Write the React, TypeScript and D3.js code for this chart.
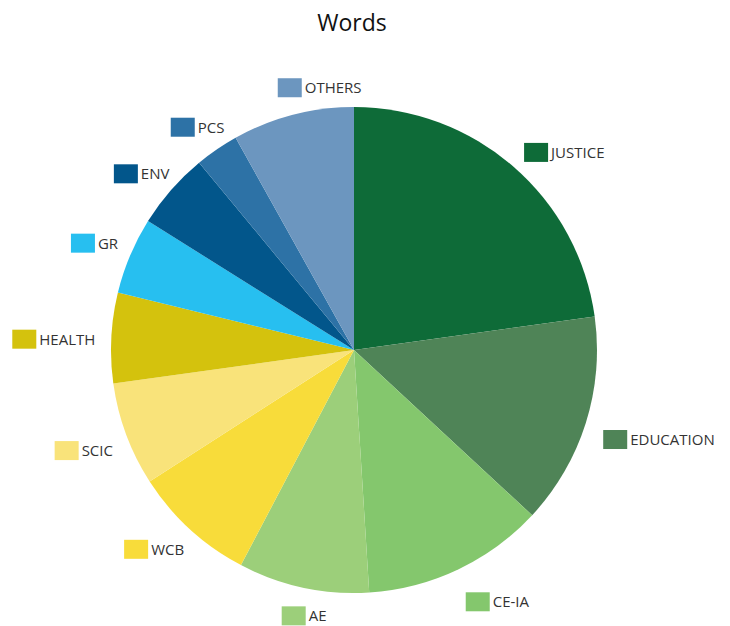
import React from "react";
import * as d3 from "d3";

const categories = ["JUSTICE", "EDUCATION", "CE-IA", "AE", "WCB", "SCIC", "HEALTH", "GR", "ENV", "PCS", "OTHERS"];
const values = [22.8, 14.1, 12.1, 8.7, 8.2, 6.9, 6.0, 5.1, 5.1, 2.9, 8.1];
const colors = ["#0e6b38", "#4f8457", "#84c76d", "#9ccf7a", "#f8dc3a", "#f9e37a", "#d4c20d", "#27bff0", "#02568b", "#2d72a6", "#6c96bf"];
const title = "Words";

const W = 730;
const H = 626;
const cx = 354;
const cy = 350;
const R = 243;
const FONT = "'Open Sans', 'Noto Sans', sans-serif";
// small manual label nudges (label layout only), as in the original
const labelNudge: Record<string, [number, number]> = {
  JUSTICE: [2, 0],
  EDUCATION: [5, 2],
  "CE-IA": [2, 6],
  AE: [26, 1],
  WCB: [3, -4],
  SCIC: [-1, 0],
  HEALTH: [-3, -2],
  GR: [0, -5],
  ENV: [8, -3],
  PCS: [15, -7],
  OTHERS: [72, -10],
};

function measure(text: string, size: number) {
  if (typeof document === "undefined") return text.length * size * 0.6;
  const c = document.createElement("canvas").getContext("2d");
  if (!c) return text.length * size * 0.6;
  c.font = `${size}px 'Open Sans'`;
  return c.measureText(text).width;
}

export default function App() {
  const data = categories.map((c, i) => ({ name: c, value: values[i], color: colors[i] }));
  const pie = d3.pie<any>().value((d) => d.value).sort(null);
  const arcs = pie(data);
  const arc = d3.arc<any>().innerRadius(0).outerRadius(R);
  const D = 256;
  const boxW = 24;
  const boxH = 19;
  const fs = 15;
  const lcy = cy + 5;

  return (
    <svg width={W} height={H} style={{ position: "absolute", left: 0, top: 0 }}>
      <rect width={W} height={H} fill="#fff" />
      <text x={352} y={31} textAnchor="middle" fontFamily={FONT} fontSize={23} fill="#111">
        {title}
      </text>
      <g transform={`translate(${cx},${cy})`}>
        {arcs.map((a, i) => (
          <path key={i} d={arc(a) || ""} fill={a.data.color} />
        ))}
      </g>
      {arcs.map((a, i) => {
        const mid = (a.startAngle + a.endAngle) / 2;
        const ux = Math.sin(mid);
        const uy = -Math.cos(mid);
        const ax = cx + D * ux;
        const ay = lcy + D * uy;
        const tw = measure(a.data.name, fs);
        const gw = boxW + 3 + tw;
        const hw = ux >= 0 ? -1 : 1;
        const vw = Math.max(-1, Math.min(1, uy * 2));
        const ccx = ax - (gw / 2) * hw;
        const ccy = ay + (boxH / 2) * vw;
        const nd = labelNudge[a.data.name] || [0, 0];
        const x0 = ccx - gw / 2 + nd[0];
        const y0 = ccy - boxH / 2 + nd[1];
        return (
          <g key={i}>
            <rect x={x0} y={y0} width={boxW} height={boxH} fill={a.data.color} />
            <text x={x0 + boxW + 3} y={y0 + boxH / 2 + 5.5} fontFamily={FONT} fontSize={fs} fill="#333">
              {a.data.name}
            </text>
          </g>
        );
      })}
    </svg>
  );
}
